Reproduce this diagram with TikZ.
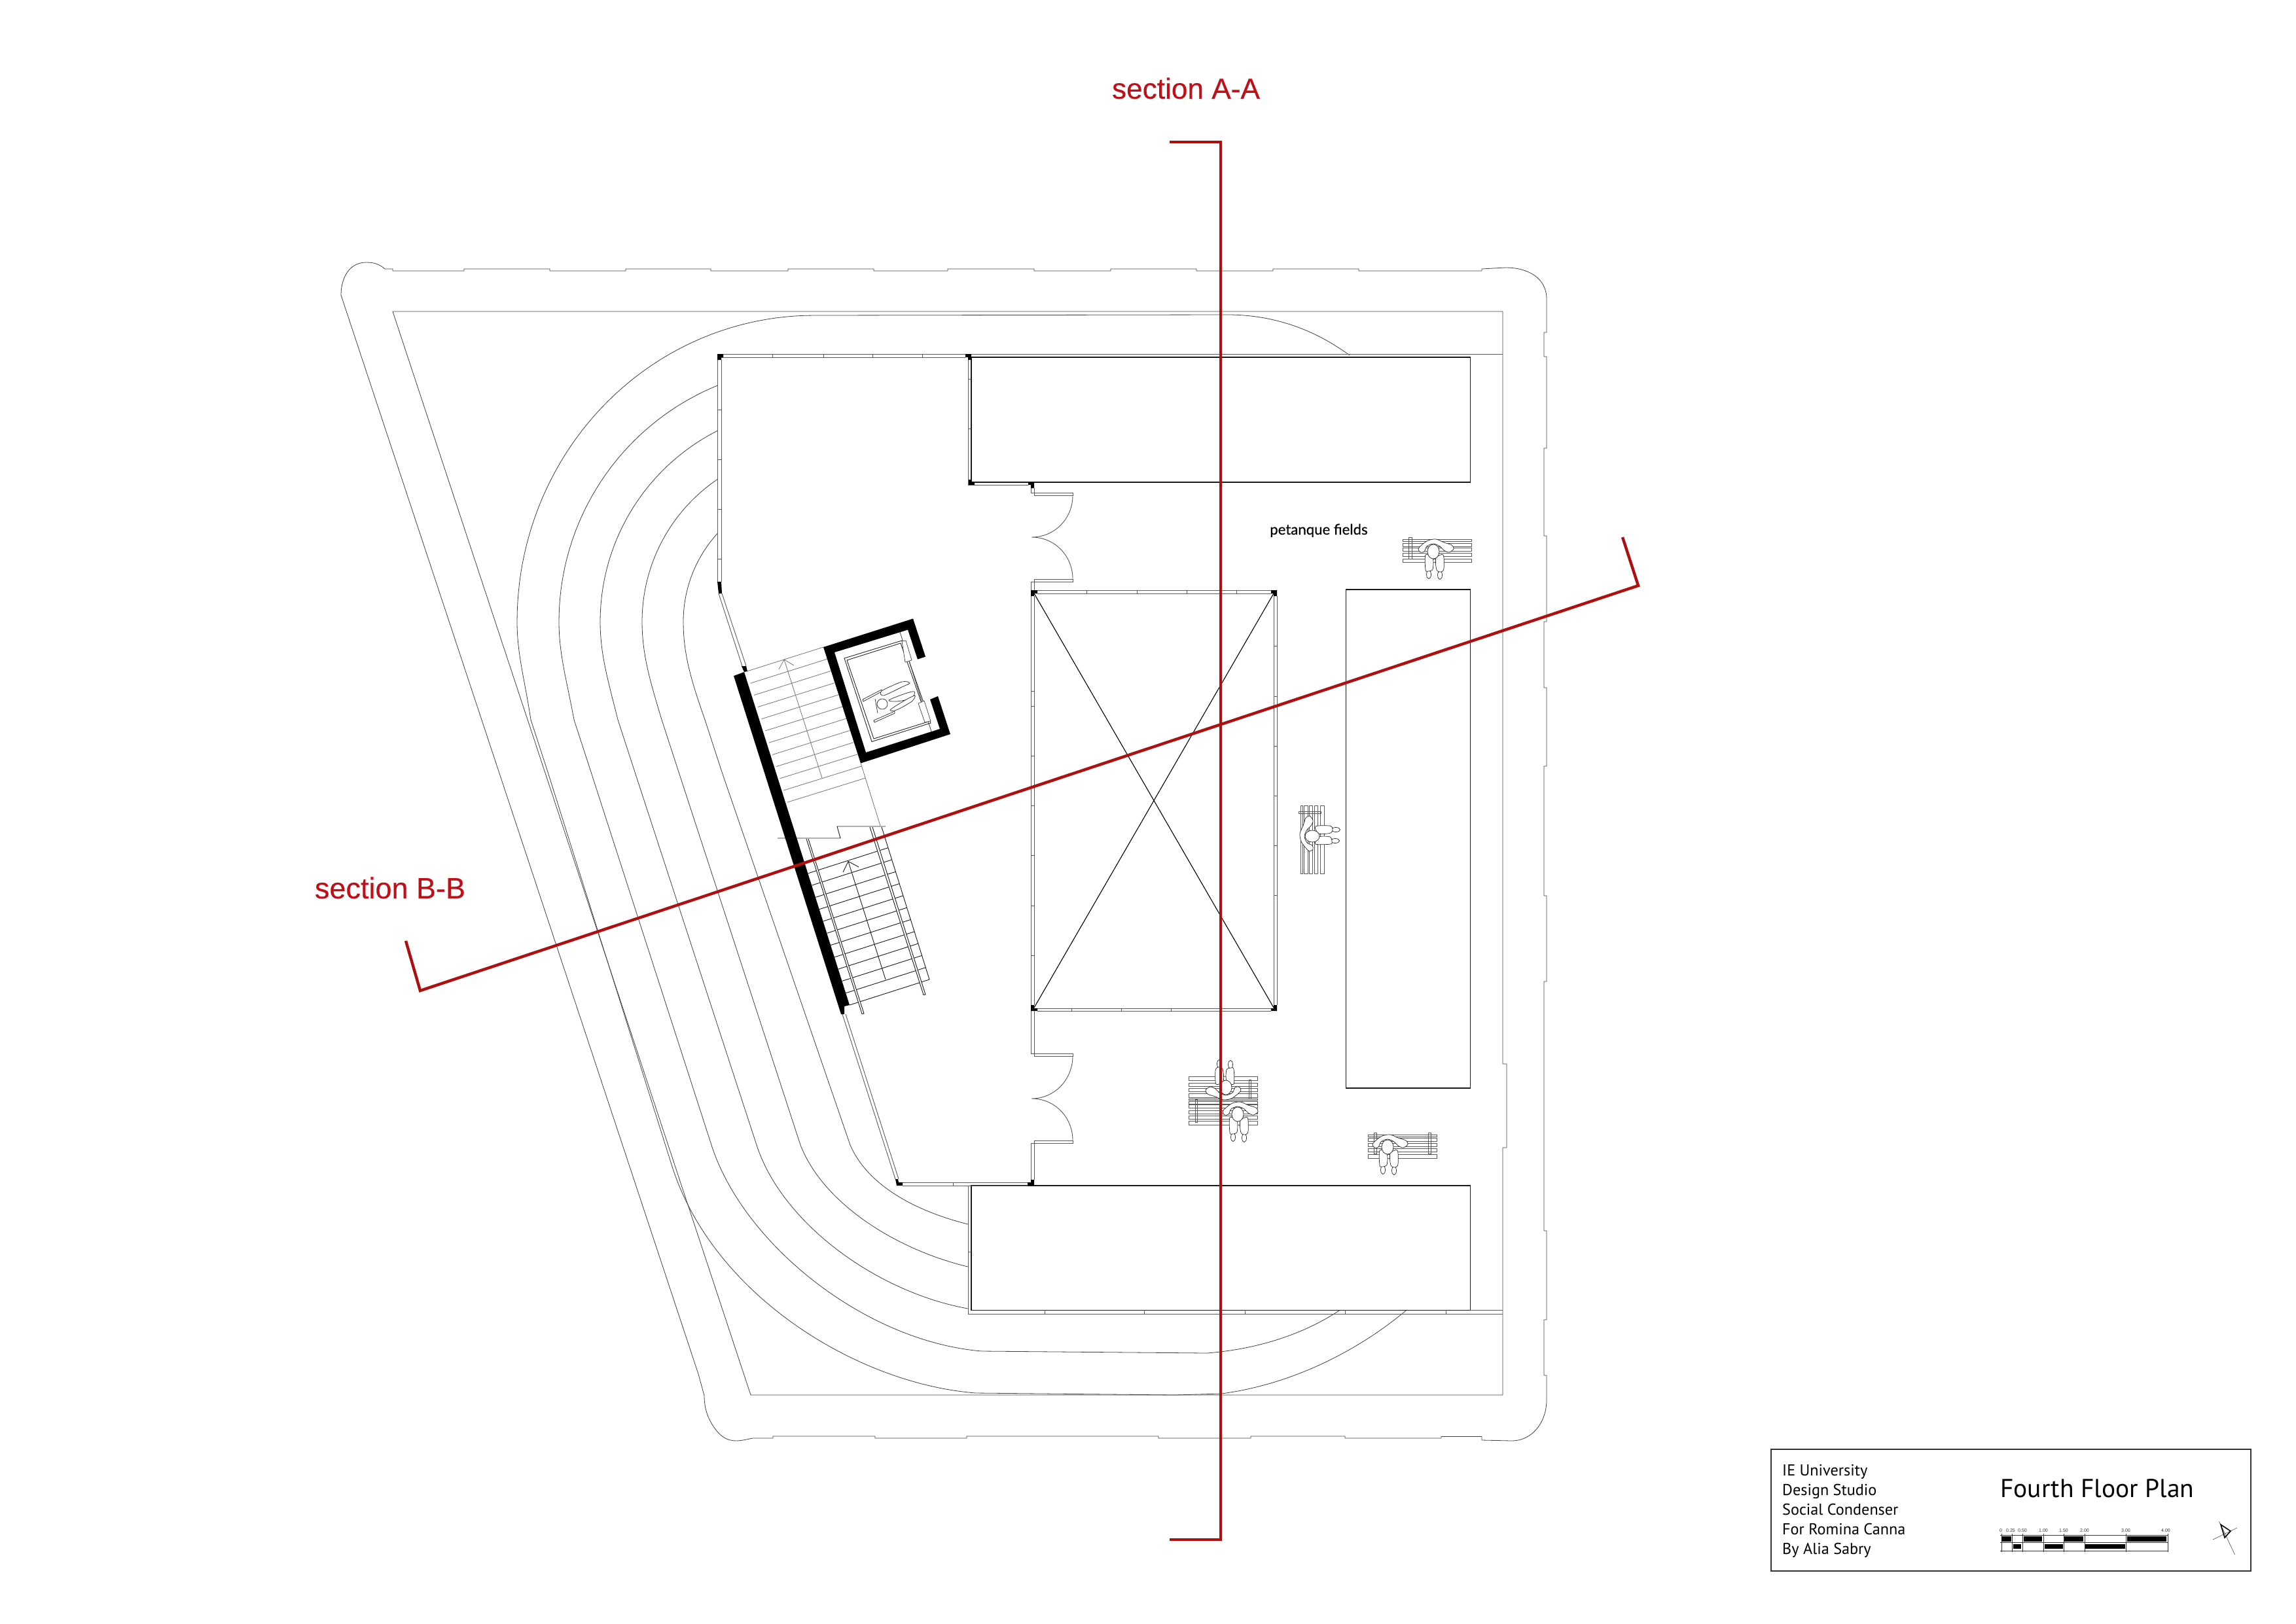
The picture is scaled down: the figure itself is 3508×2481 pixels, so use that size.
\documentclass[tikz,border=0pt]{standalone}
\usepackage{fontspec}
\setmainfont{Liberation Sans}
\newfontfamily\secf[FakeBold=0.25]{Liberation Sans}
\newfontfamily\myr{PT Sans}
\newfontfamily\gil[FakeBold=0.2]{Lato}
\definecolor{redline}{HTML}{AE1010}
\definecolor{redtext}{HTML}{BF1018}
\tikzset{
  site/.style={line width=0.8pt,draw=black!75,line join=round},
  wall/.style={line width=0.9pt,draw=black!65},
  block/.style={line width=1.05pt,draw=black!90},
  col/.style={fill=black,draw=none},
  tread/.style={line width=0.8pt,draw=black!55},
  treadk/.style={line width=0.9pt,draw=black!90},
  sect/.style={line width=4.4pt,draw=redline,line join=miter},
  slat/.style={line width=0.7pt,draw=black!65,fill=white},
  person/.style={line width=0.7pt,draw=black!85,fill=white},
}
\newcommand{\sitter}[3]{%
 \begin{scope}[shift={(#1,#2)},rotate=#3]
  \draw[person] (-7,35) ellipse [x radius=3.5pt,y radius=6.5pt];
  \draw[person] (10,36) ellipse [x radius=3.5pt,y radius=6.5pt];
  \draw[person] plot[smooth cycle] coordinates {(-12,5) (-12,28) (-8,30) (-1,27) (-1,10)};
  \draw[person] plot[smooth cycle] coordinates {(4,10) (5,28) (12,31) (16,26) (15,5)};
  \draw[person] plot[smooth cycle] coordinates {(-23,-4) (-18,-10) (-8,-17) (4,-19) (16,-14) (28,-10) (31,-4) (24,1) (16,-2) (10,-8) (0,-12) (-10,-8) (-14,0) (-20,1)};
  \draw[person] (0,0) ellipse [x radius=9pt,y radius=11pt];
 \end{scope}}
\begin{document}
\begin{tikzpicture}[x=1pt,y=-1pt]
\useasboundingbox (0,0) rectangle (3508,2481);
% outer boundary
\draw[site] (521,451) .. controls (521,430) and (530,401) .. (560,401) .. controls (575,401) and (582,406) .. (588,411) -- (600,411) -- (600,414)
 -- (709,414) -- (709,411) -- (840,411) -- (840,414) -- (956,414) -- (956,411) -- (1086,411) -- (1086,414) -- (1204,414) -- (1204,411)
 -- (1335,411) -- (1335,414) -- (1448,414) -- (1448,411) -- (1580,411) -- (1580,414) -- (1697,414) -- (1697,411) -- (1828,411) -- (1828,414)
 -- (1945,414) -- (1945,411) -- (2076,411) -- (2076,414) -- (2264,414) -- (2264,411) -- (2300,409)
 .. controls (2335,409) and (2363,425) .. (2363,457) -- (2363,508) -- (2359,508) -- (2359,545) -- (2363,545) -- (2363,685) -- (2359,685)
 -- (2359,819) -- (2363,819) -- (2363,950) -- (2359,950) -- (2359,1051) -- (2363,1051) -- (2363,1171) -- (2359,1171) -- (2359,1369) -- (2363,1369)
 -- (2363,1500) -- (2359,1500) -- (2359,1881) -- (2363,1881) -- (2363,2017) -- (2359,2017) -- (2359,2102) -- (2363,2102) -- (2363,2139)
 .. controls (2363,2175) and (2340,2202) .. (2310,2202) -- (2264,2201) -- (2264,2195.5) -- (2202,2195.5) -- (2202,2198) -- (2055,2198) -- (2055,2195)
 -- (1911,2195) -- (1911,2198) -- (1770,2198) -- (1770,2195) -- (1477,2195) -- (1477,2198) -- (1337,2198) -- (1337,2195) -- (1181,2195) -- (1181,2198) -- (1150,2198)
 .. controls (1140,2200) and (1132,2202) .. (1125,2202) .. controls (1110,2202) and (1100,2195) .. (1090,2180) .. controls (1080,2165) and (1076,2150) .. (1076,2133) -- (1067,2100) -- cycle;
% inner site line
\draw[site] (600,476) -- (2296,476) -- (2296,1626) -- (2302,1626) -- (2302,1754) -- (2296,1754) -- (2296,2132) -- (1147,2132) -- cycle;
% tracks
\draw[site] plot[domain=180:270,samples=50] ({1244+454*cos(\x)},{950+468*sin(\x)});
\draw[site] (1244,482) -- (1879,481) .. controls (1950,482) and (2010,505) .. (2062,543);
\draw[site] (790,950) .. controls (790,1000) and (802,1040) .. (811,1100) -- (837,1180) -- (1027,1783) .. controls (1090,1980) and (1310,2115) .. (1491,2129) -- (1795,2132) -- (1866,2130) .. controls (1980,2115) and (2080,2060) .. (2148,2003);
\draw[site] plot[domain=180:247.7,samples=40] ({1244+390*cos(\x)},{950+390*sin(\x)});
\draw[site] (854,950) .. controls (854,1000) and (866,1040) .. (877,1100) -- (903,1180) -- (1087,1750) .. controls (1135,1900) and (1320,2050) .. (1500,2065) -- (1844,2068) .. controls (1920,2062) and (1990,2040) .. (2046,2003);
\draw[site] plot[domain=180:243.1,samples=40] ({1244+327*cos(\x)},{950+327*sin(\x)});
\draw[site] (917,950) .. controls (917,1000) and (929,1040) .. (944,1100) -- (970,1180) -- (1156,1750) .. controls (1195,1870) and (1340,1975) .. (1479,2000);
\draw[site] plot[domain=180:235.8,samples=40] ({1244+263*cos(\x)},{950+263*sin(\x)});
\draw[site] (981,950) .. controls (981,1000) and (993,1040) .. (1011,1100) -- (1037,1180) -- (1223,1750) .. controls (1258,1840) and (1370,1910) .. (1479,1936);
\draw[site] plot[domain=180:222.3,samples=40] ({1244+200*cos(\x)},{950+200*sin(\x)});
\draw[site] (1044,950) .. controls (1044,1000) and (1056,1040) .. (1077,1100) -- (1103,1180) -- (1299,1750) .. controls (1325,1810) and (1395,1850) .. (1479,1871);
% building walls top
\draw[wall] (1105,541) -- (1475,541) (1102,546) -- (1475,546);
\foreach \x in {1180,1258,1333,1409} \draw[wall] (\x,541) -- (\x,546);
\draw[wall] (1484,541) -- (2296,541);
\draw[wall] (1096,550) -- (1096,889) (1102,550) -- (1102,889);
\foreach \y in {626,702,778,854} \draw[wall] (1096,\y) -- (1102,\y);
\draw[wall] (1098,907) -- (1134,1018) (1103,907) -- (1140,1018);
\draw[wall] (1479,550) -- (1479,741) -- (1571,741);
\foreach \y in {579,655} \draw[wall] (1479,\y) -- (1484,\y);
% blocks
\draw[block] (1484,546) rectangle (2246,737);
\draw[block] (2056,901) rectangle (2246,1663);
\draw[block] (1484,1812) rectangle (2246,2002);
\draw[wall] (1479,1812) -- (1479,2008) -- (2296,2008) (2246,2002.5) -- (2296,2002.5);
\foreach \x in {1596,1748,1902,2055,2209} \draw[wall] (\x,2002) -- (\x,2008);
\draw[wall] (1479,1913) -- (1484,1913);
% doors
\draw[wall] (1575,746) -- (1575,753) -- (1639,753) -- (1639,757) -- (1580,757) -- (1580,746);
\draw[wall] (1639,757) .. controls (1639,792) and (1612,821) .. (1576,821) .. controls (1612,821) and (1639,850) .. (1639,885);
\draw[wall] (1580,902) -- (1580,885) -- (1639,885) -- (1639,889) -- (1575,889) -- (1575,902);
\draw[wall] (1580,1545) -- (1580,1614) -- (1639,1614) -- (1639,1610) -- (1575,1610) -- (1575,1545);
\draw[wall] (1639,1614) .. controls (1639,1649) and (1612,1679) .. (1576,1679) .. controls (1612,1679) and (1639,1708) .. (1639,1743);
\draw[wall] (1575,1803) -- (1575,1747) -- (1639,1747) -- (1639,1743) -- (1580,1743) -- (1580,1803);
% void
\draw[wall] (1585,902) -- (1942,902) (1585,907) -- (1942,907);
\foreach \x in {1660,1737,1813,1889} \draw[wall] (\x,902) -- (\x,907);
\draw[wall] (1585,1541) -- (1942,1541) (1585,1545) -- (1942,1545);
\foreach \x in {1637,1713,1789} \draw[wall] (\x,1541) -- (\x,1545);
\draw[wall] (1575,911) -- (1575,1536) (1580,911) -- (1580,1536);
\foreach \y in {1056,1079,1155,1231,1307,1384,1460} \draw[wall] (1575,\y) -- (1580,\y);
\draw[wall] (1946,911) -- (1946,1536) (1951,911) -- (1951,1536);
\foreach \y in {987,1064,1140,1216,1292,1368} \draw[wall] (1946,\y) -- (1951,\y);
\draw[line width=1.1pt,black] (1580,907) -- (1946,1540) (1946,907) -- (1580,1540);
% lower walls
\draw[wall] (1379,1807) -- (1570,1807) (1379,1812) -- (1570,1812);
\draw[wall] (1456,1807) -- (1456,1812);
\draw[wall] (1287,1550) -- (1368,1802) (1292,1550) -- (1373,1802);
% columns
\fill[col] (1575,902) -- (1585,902) -- (1585,907) -- (1580,907) -- (1580,911) -- (1575,911) -- cycle;
\fill[col] (1942,902) -- (1951,902) -- (1951,911) -- (1946,911) -- (1946,907) -- (1942,907) -- cycle;
\fill[col] (1575,1536) -- (1580,1536) -- (1580,1541) -- (1585,1541) -- (1585,1545) -- (1575,1545) -- cycle;
\fill[col] (1946,1536) -- (1951,1536) -- (1951,1545) -- (1942,1545) -- (1942,1541) -- (1946,1541) -- cycle;
\fill[col] (1571,737) -- (1580,737) -- (1580,746) -- (1575,746) -- (1575,741) -- (1571,741) -- cycle;
\fill[col] (1575,1803) -- (1580,1803) -- (1580,1812) -- (1570,1812) -- (1570,1807) -- (1575,1807) -- cycle;
\fill[col] (1096,541) -- (1105,541) -- (1105,546) -- (1102,546) -- (1102,550) -- (1096,550) -- cycle;
\fill[col] (1475,541) -- (1484,541) -- (1484,550) -- (1479,550) -- (1479,546) -- (1475,546) -- cycle;
\fill[col] (1480,733) -- (1484,733) -- (1484,737) -- (1489,737) -- (1489,741) -- (1480,741) -- cycle;
\fill[col] (1096,889) -- (1102,889) -- (1103,907) -- (1098,907) -- cycle;
\fill[col] (1133,1018) -- (1140,1018) -- (1142,1026) -- (1137,1027) -- cycle;
\fill[col] (1368,1802) -- (1372,1802) -- (1373,1807) -- (1379,1807) -- (1379,1812) -- (1370,1812) -- cycle;
% black stair wall and core
\fill[col] (1121,1033) -- (1137,1027) -- (1298,1536) -- (1290,1538) -- (1290,1550) -- (1285,1550) -- cycle;
\fill[col] (1258,989) -- (1395,945.5) -- (1414,1003.6) -- (1402,1007.6) -- (1387,962.5) -- (1275,997) -- (1323,1150) -- (1436,1114) -- (1421,1069) -- (1433,1064) -- (1452,1122) -- (1315,1166.5) -- cycle;
% upper stairs
\foreach \n in {0,...,11} \draw[tread] ({1141+5.6*\n},{1026+18.2*\n}) -- ({1258+5.8*\n},{989+18.2*\n});
\draw[tread] (1198,1008) -- (1256,1189);
\draw[tread] (1190,1023) -- (1198,1008) -- (1213,1017);
\draw[tread] (1315,1166) -- (1345,1262);
% landing
\draw[treadk] (1188,1281) -- (1284,1281) -- (1279,1263) -- (1353,1263);
% lower stairs
\foreach \n in {0,...,11} \draw[treadk] ({1298-5.75*\n},{1536-18.3*\n}) -- ({1420-5.75*\n},{1497-18.3*\n});
\draw[treadk] (1347,1264) -- (1420,1497);
\draw[treadk,fill=white] (1232,1282) -- (1317,1549.5) -- (1320,1549) -- (1235,1282);
\draw[treadk,fill=white] (1329,1264) -- (1411,1520.5) -- (1414,1520) -- (1333,1264);
\draw[treadk] (1353,1497) -- (1296,1316.5);
\draw[treadk] (1288,1333) -- (1296,1316.5) -- (1312,1325);
% lift cabin
\draw[line width=0.9pt,black!85] (1290,1006) -- (1378,979) -- (1422,1105) -- (1332,1133.5) -- cycle;
\draw[line width=0.9pt,black!85] (1294,1009) -- (1376,983) -- (1418,1103) -- (1335,1129) -- cycle;
\draw[line width=0.8pt,black!75] (1375,966) -- (1423,1118);
\draw[line width=0.7pt,black!75,fill=white] (1378,980) -- (1384,979) -- (1393,1009) -- (1383,1012) -- cycle;
\draw[line width=0.7pt,black!75,fill=white] (1403,1075) -- (1412,1071) -- (1422,1102) -- (1413,1104) -- cycle;
% wheelchair user
\draw[person] (1318,1069) -- (1347,1054) -- (1347,1057) -- (1319,1072) -- cycle;
\draw[person] (1335,1101) -- (1367,1087) -- (1367,1090) -- (1336,1104) -- cycle;
\draw[person] plot[smooth cycle] coordinates {(1347,1056) (1378,1042) (1390,1044) (1378,1050) (1350,1063)};
\draw[person] plot[smooth cycle] coordinates {(1358,1070) (1383,1060) (1397,1057) (1393,1067) (1370,1072)};
\draw[person] plot[smooth cycle] coordinates {(1360,1085) (1383,1070) (1398,1063) (1393,1072) (1370,1085)};
\draw[person] (1348,1076) ellipse [x radius=8pt,y radius=8pt];
\draw[person,fill=none] (1337,1068) -- (1341,1090);
% bench by the label
\foreach \a/\b in {824.5/827,830/835,837/842,845/850,854/859} \draw[slat] (2143,\a) rectangle (2248,\b);
\draw[slat,fill=none] (2152,821) rectangle (2157,854);
\sitter{2190}{843}{0}
% bench double
\foreach \a/\b in {1645/1651,1655/1660,1663/1668,1671/1677,1679/1681,1683/1687,1688/1693,1697/1702,1705/1710,1713/1719} \draw[slat] (1816,\a) rectangle (1921,\b);
\draw[slat,fill=none] (1908,1650) rectangle (1911,1679);
\draw[slat,fill=none] (1826,1680) rectangle (1829,1715);
\sitter{1873}{1662}{180}
\sitter{1891}{1703}{0}
% lower bench
\foreach \a/\b in {1734/1737,1739/1744,1747/1752,1755/1760,1764/1770} \draw[slat] (2090,\a) rectangle (2195,\b);
\draw[slat,fill=none] (2099,1731) rectangle (2103,1763);
\draw[slat,fill=none] (2182,1731) rectangle (2186,1763);
\sitter{2120}{1753}{0}
% rotated bench
\foreach \a/\b in {1987/1990,1992/1998,2000/2005,2008/2013,2017/2023} \draw[slat] (\a,1231) rectangle (\b,1335);
\draw[slat,fill=none] (1984,1240) rectangle (2018,1243);
\sitter{2005}{1278}{90}
% label
\node[anchor=base west,inner sep=0pt,font=\gil\fontsize{22.2}{26}\selectfont] (petanque) at (1940,817) {petanque fields};
% section lines
\draw[sect] (1787,217) -- (1865,217) -- (1865,2353) -- (1787,2353);
\draw[sect] (620,1438) -- (642,1514) -- (2503,895) -- (2479,821);
\node[font=\secf\fontsize{44.2}{50}\selectfont,text=redtext,inner sep=0pt] (secA) at (1812,135) {section A-A};
\node[font=\secf\fontsize{45}{50}\selectfont,text=redtext,inner sep=0pt] (secB) at (596,1357) {section B-B};
% title block
\draw[line width=1.6pt,black!80] (2706,2215) rectangle (3439,2401);
\begin{scope}[every node/.style={anchor=base west,inner sep=0pt,font=\myr\fontsize{24.2}{28}\selectfont}]
\node (t1) at (2723,2255) {IE University};
\node (t2) at (2723,2285) {Design Studio};
\node (t3) at (2723,2315) {Social Condenser};
\node (t4) at (2723,2345) {For Romina Canna};
\node (t5) at (2723,2375) {By Alia Sabry};
\end{scope}
\node[anchor=base west,inner sep=0pt,font=\myr\fontsize{39.5}{46}\selectfont] (title) at (3056,2288) {Fourth Floor Plan};
% scale bar
\draw[line width=0.7pt,black!80] (3056,2346) -- (3313,2346) (3056,2357) -- (3313,2357) (3056,2370) -- (3313,2370);
\foreach \x in {3058,3074,3090,3122,3153,3185,3248,3312} \draw[line width=0.7pt,black!80] (\x,2344) -- (\x,2372);
\foreach \a/\b in {3058/3073,3092/3120,3154/3183,3250/3310} \fill[col] (\a,2348) rectangle (\b,2356);
\foreach \a/\b in {3076/3088,3124/3152,3186/3247} \fill[col] (\a,2360) rectangle (\b,2367);
\begin{scope}[every node/.style={inner sep=0pt,font=\fontsize{7}{8}\selectfont,text=black!80}]
\node (s0) at (3057,2339) {0};
\node (s1) at (3072,2339) {0.25};
\node (s2) at (3090,2339) {0.50};
\node (s3) at (3122,2339) {1.00};
\node (s4) at (3153,2339) {1.50};
\node (s5) at (3185,2339) {2.00};
\node (s6) at (3248,2339) {3.00};
\node (s7) at (3309,2339) {4.00};
\end{scope}
% north arrow
\draw[line width=0.6pt,black!70] (3390.5,2325) -- (3414.5,2376) (3381,2353) -- (3418,2335);
\draw[line width=1.6pt,black,line join=miter] (3393,2330) -- (3408,2340) -- (3399,2350) -- cycle;
\end{tikzpicture}
\end{document}
